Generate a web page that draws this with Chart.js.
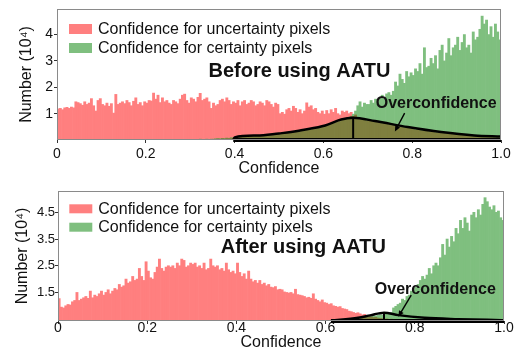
<!DOCTYPE html>
<html><head><meta charset="utf-8">
<script src="https://cdn.jsdelivr.net/npm/chart.js@4.4.0/dist/chart.umd.min.js"></script>
<style>
html,body{margin:0;padding:0;background:#fff;}
#wrap{position:relative;width:518px;height:350px;overflow:hidden;}
canvas{position:absolute;left:0;}
#c1{top:0;} #c2{top:175px;}
</style></head><body>
<div id="wrap"><canvas id="c1" width="518" height="175" style="width:518px;height:175px"></canvas><canvas id="c2" width="518" height="175" style="width:518px;height:175px"></canvas></div>
<script>
// ---- histogram bins (200 bins of width 0.005 over [0,1]) ----
const BIN_WIDTH = 0.005;
const binCenters = Array.from({length: 200}, (_, i) => +(i * BIN_WIDTH + BIN_WIDTH / 2).toFixed(4));

// ---- tick labels ----
const xTickValues = [0, 0.2, 0.4, 0.6, 0.8, 1.0];
const xTickLabels = ['0', '0.2', '0.4', '0.6', '0.8', '1.0'];
const beforeYTicks = [1, 2, 3, 4];
const beforeYLabels = ['1', '2', '3', '4'];
const afterYTicks = [1.5, 2.5, 3.5, 4.5];
const afterYLabels = ['1.5', '2.5', '3.5', '4.5'];

// ---- series labels ----
const seriesNames = ['Confidence for uncertainty pixels', 'Confidence for certainty pixels'];

// ---- Before using AATU (units of 10^4) ----
const beforeUncertain = [
 1.18,1.2,1.15,1.22,1.24,1.2,1.25,1.22,1.45,1.42,
 1.38,1.32,1.45,1.35,1.4,1.57,1.3,1.1,1.5,1.57,
 1.35,1.3,1.4,1.28,1.38,1.02,1.73,1.35,1.4,1.45,
 1.38,1.5,1.42,1.3,1.47,1.6,1.35,1.42,1.3,1.45,
 1.4,1.5,1.48,1.78,1.55,1.7,1.42,1.6,1.45,1.5,
 1.4,1.35,1.5,1.45,1.38,1.55,1.7,1.74,1.5,1.4,
 1.6,1.55,1.45,1.62,1.77,1.5,1.55,1.6,1.45,1.2,
 1.4,1.3,1.35,1.5,1.55,1.45,1.6,1.5,1.35,1.45,
 1.4,1.5,1.3,1.45,1.5,1.35,1.4,1.5,1.45,1.3,
 1.35,1.45,1.4,1.3,1.5,1.45,1.35,1.25,1.4,1.35,
 1.0,1.05,0.98,1.15,1.2,1.1,1.28,1.2,1.05,1.15,
 1.0,1.1,1.41,1.25,1.3,1.15,1.2,1.05,1.0,1.1,
 0.98,1.12,1.0,1.15,1.05,1.2,1.0,0.95,1.1,1.05,
 1.1,1.0,1.05,0.9,0.95,0.85,0.8,0.78,0.75,0.72,
 0.75,0.72,0.7,0.68,0.7,0.65,0.62,0.64,0.6,0.58,
 0.55,0.57,0.52,0.5,0.52,0.48,0.47,0.45,0.46,0.43,
 0.4,0.38,0.39,0.36,0.35,0.34,0.33,0.32,0.3,0.31,
 0.28,0.27,0.29,0.25,0.26,0.24,0.23,0.24,0.21,0.22,
 0.2,0.19,0.18,0.19,0.16,0.17,0.15,0.16,0.14,0.15,
 0.13,0.14,0.12,0.11,0.13,0.1,0.11,0.09,0.1,0.08
];
const beforeCertain = [
 0,0,0,0,0,0,0,0,0,0,
 0,0,0,0,0,0,0,0,0,0,
 0,0,0,0,0,0,0,0,0,0,
 0,0,0,0,0,0,0,0,0,0,
 0,0,0,0,0,0,0,0,0,0,
 0,0,0,0,0,0,0,0,0,0,
 0,0,0.02,0,0.03,0.02,0,0.03,0.02,0.03,
 0.03,0.04,0.05,0.04,0.06,0.05,0.07,0.06,0.08,0.07,
 0.09,0.1,0.11,0.1,0.12,0.13,0.12,0.14,0.15,0.14,
 0.16,0.17,0.18,0.17,0.2,0.19,0.21,0.22,0.2,0.23,
 0.24,0.25,0.27,0.26,0.28,0.3,0.29,0.32,0.33,0.31,
 0.35,0.36,0.38,0.4,0.39,0.42,0.44,0.45,0.47,0.5,
 0.52,0.55,0.57,0.6,0.62,0.65,0.68,0.7,0.74,0.78,
 0.82,0.86,0.9,0.98,1.1,1.3,1.45,1.25,1.4,1.35,
 1.35,1.5,1.4,1.55,1.45,1.6,1.7,1.55,1.75,1.8,
 1.7,1.85,2.2,2.05,2.5,2.3,2.15,2.6,2.4,2.55,
 2.45,2.7,2.6,2.9,2.5,3.5,2.75,2.8,3.1,2.9,
 3.2,2.7,3.4,3.6,3.0,3.3,3.85,3.2,3.5,3.6,
 3.9,3.4,3.7,4.0,3.5,3.6,3.3,4.1,3.8,3.9,
 4.2,4.7,4.4,4.55,4.0,4.3,3.9,4.4,4.1,3.8
];
const beforeCurveX = [0.397,0.40,0.45,0.50,0.527,0.55,0.604,0.64,0.667,0.716,0.79,0.865,0.94,1.0];
const beforeCurveY = [0,0.1,0.17,0.25,0.3,0.37,0.55,0.78,0.84,0.72,0.49,0.3,0.17,0.13];
const beforePeak = [0.667, 0.84];
const beforeBaseX = [0.397, 1.0];

// ---- After using AATU (units of 10^4) ----
const afterUncertain = [
 1.27,0.95,0.92,1.0,1.05,1.03,1.15,1.2,1.5,1.2,
 1.25,1.3,1.35,1.28,1.55,1.3,1.4,1.35,1.45,1.55,
 1.4,1.5,1.6,1.45,1.55,1.65,1.6,1.8,1.7,1.75,
 2.0,1.85,1.9,2.1,1.95,2.0,2.4,2.1,1.95,2.65,
 2.3,2.05,2.0,2.25,2.45,2.75,2.4,2.3,2.45,2.5,
 2.45,2.5,2.4,2.6,2.5,2.75,2.7,2.45,2.5,2.6,
 2.55,2.6,2.45,2.5,2.4,2.6,2.35,2.4,2.75,2.5,
 2.45,2.5,2.35,2.4,2.3,2.6,2.35,2.25,2.3,2.2,
 2.6,2.25,2.1,2.2,2.0,2.3,2.0,1.9,1.95,1.85,
 1.95,1.8,1.85,1.75,1.8,1.7,1.68,1.72,1.6,1.62,
 1.6,1.52,1.5,1.48,1.5,1.45,1.62,1.42,1.4,1.38,
 1.35,1.3,1.32,1.28,1.45,1.25,1.2,1.15,1.22,1.12,
 1.1,1.05,1.08,1.0,0.98,0.95,0.97,0.9,0.88,0.86,
 0.8,0.78,0.75,0.72,0.74,0.7,0.66,0.68,0.64,0.6,
 0.58,0.56,0.57,0.54,0.53,0.52,0.5,0.51,0.49,0.5,
 0.48,0.49,0.47,0.48,0.46,0.47,0.45,0.46,0.45,0.44,
 0.45,0.44,0.44,0.43,0.44,0.43,0.42,0.43,0.42,0.41,
 0.42,0.41,0.42,0.4,0.41,0.4,0.39,0.4,0.38,0.39,
 0.37,0.38,0.36,0.37,0.35,0.36,0.34,0.35,0.33,0.34,
 0.32,0.33,0.31,0.32,0.3,0.31,0.29,0.3,0.28,0.29
];
const afterCertain = [
 0,0,0,0,0,0,0,0,0,0,
 0,0,0,0,0,0,0,0,0,0,
 0,0,0,0,0,0,0,0,0,0,
 0,0,0,0,0,0,0,0,0,0,
 0,0,0,0,0,0,0,0,0,0,
 0,0,0,0,0,0,0,0,0,0,
 0,0,0,0,0,0,0,0,0,0,
 0,0,0,0,0,0,0,0,0,0,
 0,0,0,0,0,0,0,0,0,0,
 0,0,0,0,0,0,0,0,0,0,
 0,0,0,0,0,0,0,0,0,0,
 0,0,0,0,0,0,0,0,0,0,
 0.43,0.44,0.43,0.45,0.44,0.46,0.45,0.47,0.48,0.49,
 0.5,0.49,0.52,0.51,0.53,0.55,0.54,0.56,0.58,0.6,
 0.6,0.62,0.61,0.64,0.66,0.65,0.68,0.7,0.72,0.75,
 0.92,0.98,1.05,1.1,1.25,1.2,1.35,1.4,1.55,1.6,
 1.7,1.8,1.95,2.1,2.0,2.15,2.4,2.2,2.5,2.6,
 2.5,2.8,3.3,2.9,3.5,3.2,3.6,3.4,3.9,3.7,
 4.2,3.9,4.3,4.1,3.8,4.4,4.5,4.3,4.6,4.4,
 4.8,5.05,4.9,4.7,4.6,4.75,4.5,4.55,4.3,4.2
];
const afterCurveX = [0.612,0.673,0.70,0.731,0.763,0.822,0.897,0.995];
const afterCurveY = [0.44,0.55,0.64,0.74,0.65,0.55,0.50,0.46];
const afterPeak = [0.731, 0.74];
const afterBaseX = [0.612, 1.0];

const FONT = "'Liberation Sans', Arial, Helvetica, sans-serif";
const TXT = '#111';
// colours of 50%-alpha red / green on white and of their overlap
const RED = 'rgb(255,127,127)';
const GREEN = 'rgb(127,191,127)';
const OVERLAP = 'rgb(127,127,63)';

function pts(xs, ys) { return xs.map((x, i) => ({x: x, y: ys[i]})); }

const decor = {
  id: 'decor',
  afterDraw(chart) {
    const o = chart.options.plugins.decor;
    const {ctx, chartArea: a, scales: {x, y}} = chart;
    ctx.save();
    const l = Math.round(a.left) + 0.5, t = Math.round(a.top) + 0.5;
    const r = Math.round(a.right) - 0.5, b = Math.round(a.bottom) - 0.5;
    ctx.strokeStyle = '#8a8a8a'; ctx.lineWidth = 1;
    ctx.strokeRect(l, t, r - l, b - t);
    ctx.textAlign = 'left'; ctx.textBaseline = 'middle';
    ctx.font = '16px ' + FONT;
    o.legend.forEach((it, i) => {
      const bx = a.left + o.legendX, by = a.top + it.dy;
      ctx.fillStyle = it.color;
      ctx.fillRect(bx, by, 23, o.boxH);
      ctx.fillStyle = TXT;
      ctx.fillText(seriesNames[i], bx + 29, by + o.boxH / 2 + 0.5);
    });
    ctx.textAlign = 'center';
    o.texts.forEach(tx => {
      ctx.font = tx.font + ' ' + FONT;
      ctx.fillStyle = TXT;
      ctx.fillText(tx.text, x.getPixelForValue(tx.x), y.getPixelForValue(tx.y));
    });
    const ar = o.arrow;
    const x1 = x.getPixelForValue(ar.x1), y1 = y.getPixelForValue(ar.y1);
    const x2 = x.getPixelForValue(ar.x2), y2 = y.getPixelForValue(ar.y2);
    const ang = Math.atan2(y2 - y1, x2 - x1), head = 6.5;
    ctx.strokeStyle = '#000'; ctx.fillStyle = '#000'; ctx.lineWidth = 1.4;
    ctx.beginPath(); ctx.moveTo(x1, y1);
    ctx.lineTo(x2 - head * 0.7 * Math.cos(ang), y2 - head * 0.7 * Math.sin(ang)); ctx.stroke();
    ctx.beginPath(); ctx.moveTo(x2, y2);
    ctx.lineTo(x2 - head * Math.cos(ang - 0.42), y2 - head * Math.sin(ang - 0.42));
    ctx.lineTo(x2 - head * Math.cos(ang + 0.42), y2 - head * Math.sin(ang + 0.42));
    ctx.closePath(); ctx.fill();
    ctx.restore();
  }
};

function makeChart(id, c) {
  const overlap = c.red.map((v, i) => Math.min(v, c.green[i]));
  const barOpts = {borderWidth: 0, grouped: false, barPercentage: 1, categoryPercentage: 1};
  return new Chart(document.getElementById(id), {
    type: 'bar',
    data: { datasets: [
      Object.assign({label: seriesNames[0], data: pts(binCenters, c.red), backgroundColor: RED, order: 4}, barOpts),
      Object.assign({label: seriesNames[1], data: pts(binCenters, c.green), backgroundColor: GREEN, order: 3}, barOpts),
      Object.assign({label: 'overlap', data: pts(binCenters, overlap), backgroundColor: OVERLAP, order: 2}, barOpts),
      {type: 'line', data: pts(c.curveX, c.curveY), borderColor: '#000', borderWidth: 2.5, pointRadius: 0,
       cubicInterpolationMode: 'monotone', fill: false, order: 1, clip: false},
      {type: 'line', data: pts(c.baseX, [c.yMin, c.yMin]), borderColor: '#000', borderWidth: 4, pointRadius: 0,
       fill: false, order: 0, clip: false},
      {type: 'line', data: pts([c.peak[0], c.peak[0]], [c.yMin, c.peak[1]]), borderColor: '#000', borderWidth: 2,
       pointRadius: 0, fill: false, order: 0, clip: false}
    ]},
    options: {
      responsive: false, animation: false, events: [],
      layout: {padding: c.pad},
      plugins: {legend: {display: false}, tooltip: {enabled: false}, decor: c.decor},
      scales: {
        x: {
          type: 'linear', min: 0, max: 1, offset: false,
          afterBuildTicks: s => { s.ticks = xTickValues.map(v => ({value: v})); },
          ticks: {callback: (v, i) => xTickLabels[i], font: {size: 14, family: FONT}, color: TXT,
                  padding: c.xTickPad, maxRotation: 0, autoSkip: false},
          grid: {offset: false, drawOnChartArea: false, drawTicks: true, tickLength: 3, tickColor: '#333'},
          border: {display: false},
          title: {display: true, text: 'Confidence', color: TXT, font: {size: 16, family: FONT, lineHeight: 1.2},
                  padding: {top: 0, bottom: c.xTitlePad}},
          afterFit: s => { s.height = c.xH; s.paddingLeft = 0; s.paddingRight = 0; }
        },
        y: {
          min: c.yMin, max: c.yMax,
          afterBuildTicks: s => { s.ticks = c.yTicks.map(v => ({value: v})); },
          ticks: {callback: (v, i) => c.yLabels[i], font: {size: c.yFont, family: FONT}, color: TXT,
                  padding: c.yTickPad, autoSkip: false},
          grid: {drawOnChartArea: false, drawTicks: true, tickLength: 3, tickColor: '#333'},
          border: {display: false},
          title: {display: true, text: 'Number (10\u2074)', color: TXT, font: {size: 16, family: FONT, lineHeight: 1.2},
                  padding: {top: c.yTitlePad, bottom: 0}},
          afterFit: s => { s.width = c.yW; s.paddingTop = 0; s.paddingBottom = 0; }
        }
      }
    },
    plugins: [decor]
  });
}

makeChart('c1', {
  red: beforeUncertain, green: beforeCertain,
  curveX: beforeCurveX, curveY: beforeCurveY, peak: beforePeak, baseX: beforeBaseX,
  yMin: 0, yMax: 4.97, yTicks: beforeYTicks, yLabels: beforeYLabels, yFont: 14,
  pad: {top: 9, right: 17, left: 0, bottom: 0}, xH: 35, yW: 57,
  xTickPad: 3, yTickPad: 1, xTitlePad: -3.6, yTitlePad: 16.6,
  decor: {
    legendX: 12, boxH: 10,
    legend: [{dy: 15, color: RED}, {dy: 34, color: GREEN}],
    texts: [{text: 'Before using AATU', font: 'bold 20px', x: 0.546, y: 2.6},
            {text: 'Overconfidence', font: 'bold 16px', x: 0.854, y: 1.37}],
    arrow: {x1: 0.783, y1: 1.02, x2: 0.761, y2: 0.32}
  }
});

makeChart('c2', {
  red: afterUncertain, green: afterCertain,
  curveX: afterCurveX, curveY: afterCurveY, peak: afterPeak, baseX: afterBaseX,
  yMin: 0.43, yMax: 5.3, yTicks: afterYTicks, yLabels: afterYLabels, yFont: 13,
  pad: {top: 16, right: 14, left: 0, bottom: 0}, xH: 29, yW: 58,
  xTickPad: -4.5, yTickPad: 0, xTitlePad: -2.1, yTitlePad: 13.2,
  decor: {
    legendX: 11.3, boxH: 9,
    legend: [{dy: 13.3, color: RED}, {dy: 31.7, color: GREEN}],
    texts: [{text: 'After using AATU', font: 'bold 20px', x: 0.55, y: 3.2},
            {text: 'Overconfidence', font: 'bold 16px', x: 0.846, y: 1.62}],
    arrow: {x1: 0.792, y1: 1.40, x2: 0.763, y2: 0.59}
  }
});
</script>
</body></html>
